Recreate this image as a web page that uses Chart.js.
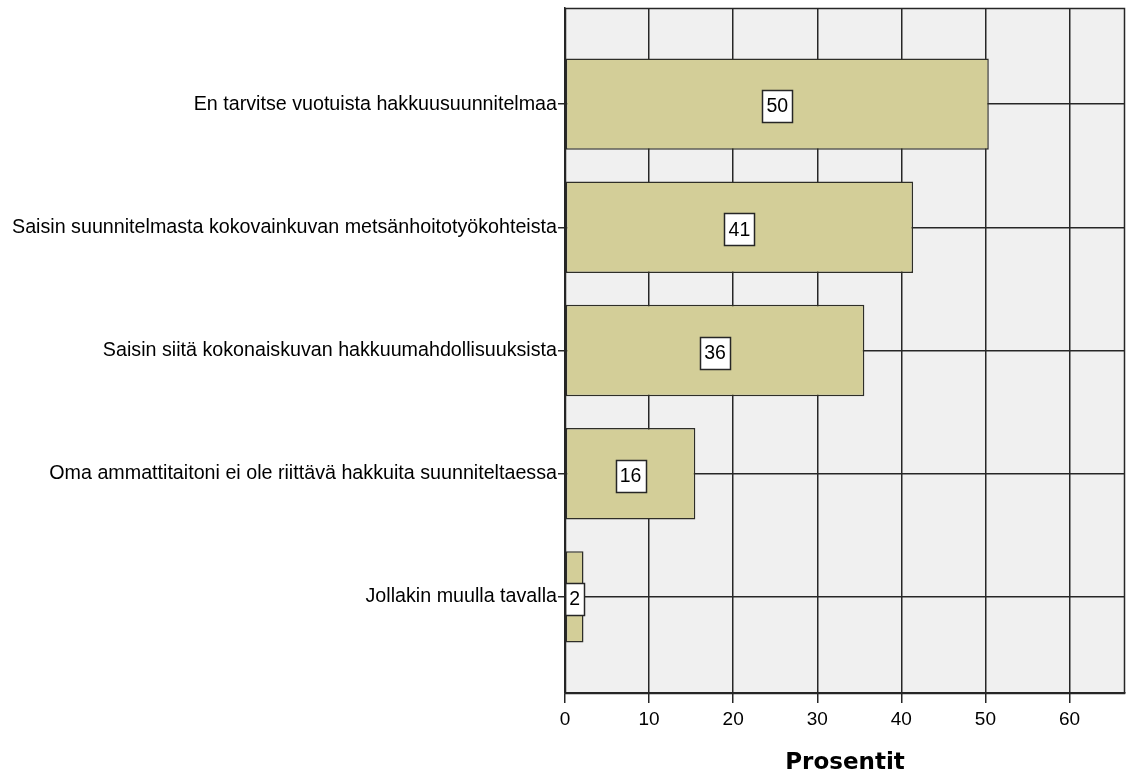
<!DOCTYPE html>
<html>
<head>
<meta charset="utf-8">
<script src="https://cdn.jsdelivr.net/npm/chart.js@4/dist/chart.umd.min.js"></script>
<style>
  html, body { margin: 0; padding: 0; background: #ffffff; }
  #wrap { width: 1127px; height: 774px; }
</style>
</head>
<body>
<div id="wrap"><canvas id="chart" width="1127" height="774"></canvas></div>
<script>
// Reasons for wanting an annual harvesting plan (percent of respondents)
const categories = [
  'En tarvitse vuotuista hakkuusuunnitelmaa',
  'Saisin suunnitelmasta kokovainkuvan metsänhoitotyökohteista',
  'Saisin siitä kokonaiskuvan hakkuumahdollisuuksista',
  'Oma ammattitaitoni ei ole riittävä hakkuita suunniteltaessa',
  'Jollakin muulla tavalla'
];
const percentages = [50.4, 41.4, 35.6, 15.5, 2.2];
const xTickValues = [0, 10, 20, 30, 40, 50, 60];
const xTitle = 'Prosentit';

const LABEL_FONT = '"Liberation Sans", Arial, sans-serif';
const LINE = '#262626';

// Grey plot background and a full frame around the plot area
const plotFrame = {
  id: 'plotFrame',
  beforeDraw(chart) {
    const { ctx, chartArea: a } = chart;
    ctx.save();
    ctx.fillStyle = '#f0f0f0';
    ctx.fillRect(a.left, a.top, a.right - a.left, a.bottom - a.top);
    ctx.restore();
  },
  afterDraw(chart) {
    const { ctx, chartArea: a } = chart;
    ctx.save();
    ctx.strokeStyle = LINE;
    ctx.lineWidth = 1.5;
    ctx.strokeRect(Math.round(a.left) + 0.5, Math.round(a.top) + 0.5,
      Math.round(a.right - a.left) - 1, Math.round(a.bottom - a.top));
    ctx.restore();
  }
};

// Boxed value label in the middle of each bar
const valueBoxes = {
  id: 'valueBoxes',
  afterDatasetsDraw(chart) {
    const { ctx } = chart;
    const meta = chart.getDatasetMeta(0);
    ctx.save();
    ctx.font = '19.5px ' + LABEL_FONT;
    ctx.textAlign = 'center';
    ctx.textBaseline = 'middle';
    meta.data.forEach((bar, i) => {
      const text = String(Math.round(percentages[i]));
      const cx = (bar.x + bar.base) / 2;
      const cy = bar.y + 2;
      const w = Math.round(ctx.measureText(text).width + 8);
      const h = 32;
      const x0 = Math.round(cx - w / 2) + 0.5;
      const y0 = Math.round(cy - h / 2) + 0.5;
      ctx.fillStyle = '#ffffff';
      ctx.fillRect(x0, y0, w, h);
      ctx.strokeStyle = LINE;
      ctx.lineWidth = 1.5;
      ctx.strokeRect(x0, y0, w, h);
      ctx.fillStyle = '#000000';
      ctx.fillText(text, cx, cy + 1);
    });
    ctx.restore();
  }
};

new Chart(document.getElementById('chart'), {
  type: 'bar',
  data: {
    datasets: [{
      data: percentages.map((v, i) => ({ x: v, y: i })),
      backgroundColor: '#d3ce98',
      borderColor: '#2e2e28',
      borderWidth: 1.5,
      borderSkipped: false,
      barPercentage: 0.742,
      categoryPercentage: 1
    }]
  },
  options: {
    indexAxis: 'y',
    responsive: false,
    animation: false,
    devicePixelRatio: 1,
    layout: { padding: { top: 8, right: 2, left: 0, bottom: 0 } },
    plugins: {
      legend: { display: false },
      tooltip: { enabled: false }
    },
    scales: {
      y: {
        type: 'linear',
        reverse: true,
        offset: false,
        min: -0.78,
        max: 4.78,
        afterBuildTicks(scale) {
          scale.ticks = categories.map((_, i) => ({ value: i }));
        },
        afterFit(scale) {
          scale.width = 565;
          scale.paddingTop = 0;
          scale.paddingBottom = 0;
        },
        grid: {
          offset: false,
          color: LINE,
          lineWidth: 1.5,
          drawTicks: true,
          tickLength: 7
        },
        border: { display: true, color: LINE, width: 1.5 },
        ticks: {
          autoSkip: false,
          padding: 1,
          color: '#000000',
          font: { family: LABEL_FONT, size: 19.7 },
          callback: (value) => categories[value]
        }
      },
      x: {
        type: 'linear',
        min: 0,
        max: 66.6,
        afterBuildTicks(scale) {
          scale.ticks = xTickValues.map(v => ({ value: v }));
        },
        afterFit(scale) {
          scale.height = 81;
          scale.paddingLeft = 0;
          scale.paddingRight = 0;
        },
        grid: {
          color: LINE,
          lineWidth: 1.5,
          drawTicks: true,
          tickLength: 10
        },
        border: { display: true, color: LINE, width: 1.5 },
        ticks: {
          autoSkip: false,
          maxRotation: 0,
          padding: 5,
          color: '#000000',
          font: { family: LABEL_FONT, size: 19 }
        },
        title: {
          display: true,
          text: xTitle,
          color: '#000000',
          font: { family: '"DejaVu Sans", Verdana, sans-serif', size: 23, weight: 'bold', lineHeight: 1 },
          padding: { top: 0, bottom: -1 }
        }
      }
    }
  },
  plugins: [plotFrame, valueBoxes]
});
</script>
</body>
</html>
